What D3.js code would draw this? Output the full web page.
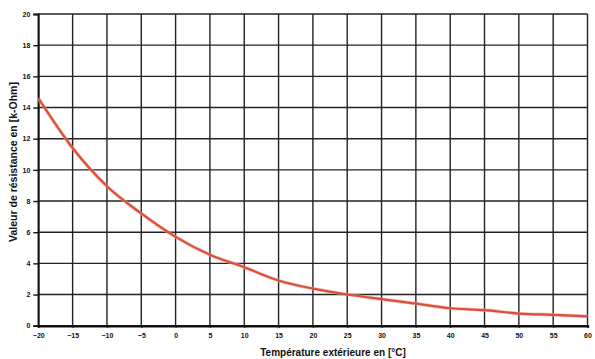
<!DOCTYPE html>
<html>
<head>
<meta charset="utf-8">
<script src="https://cdn.jsdelivr.net/npm/d3@7/dist/d3.min.js"></script>
<style>
  html, body { margin: 0; padding: 0; background: #fff; }
  svg { display: block; }
  text { font-family: "Liberation Sans", Arial, sans-serif; fill: #111; }
</style>
</head>
<body>
<svg id="chart" width="595" height="359"></svg>
<script>
// Data
const temperatures = [-20, -15, -10, -5, 0, 5, 10, 15, 20, 25, 30, 35, 40, 45, 50, 55, 60];
const resistances  = [14.6, 11.4, 8.95, 7.2, 5.7, 4.55, 3.75, 2.9, 2.38, 2.0, 1.7, 1.42, 1.12, 1.0, 0.78, 0.7, 0.6];
const xTicks = [-20, -15, -10, -5, 0, 5, 10, 15, 20, 25, 30, 35, 40, 45, 50, 55, 60];
const yTicks = [0, 2, 4, 6, 8, 10, 12, 14, 16, 18, 20];
const xTitle = "Température extérieure en [°C]";
const yTitle = "Valeur de résistance en [k-Ohm]";

const W = 595, H = 359;
const margin = { left: 38.3, right: 7.5, top: 14, bottom: 33.3 };
const svg = d3.select("#chart");

const x = d3.scaleLinear().domain([-20, 60]).range([margin.left, W - margin.right]);
const y = d3.scaleLinear().domain([0, 20]).range([H - margin.bottom, margin.top]);

// Grid
const grid = svg.append("g");
grid.selectAll("line.v").data(xTicks).join("line")
  .attr("x1", d => x(d)).attr("x2", d => x(d))
  .attr("y1", y(20)).attr("y2", y(0))
  .attr("stroke", "#222").attr("stroke-width", 1.4);
grid.selectAll("line.h").data(yTicks).join("line")
  .attr("x1", x(-20)).attr("x2", x(60))
  .attr("y1", d => y(d)).attr("y2", d => y(d))
  .attr("stroke", "#222").attr("stroke-width", 1.4);

// Y axis
const yAxis = d3.axisLeft(y).tickValues(yTicks).tickSize(5).tickPadding(3);
const gy = svg.append("g").attr("transform", `translate(${x(-20)},0)`).call(yAxis);
gy.select(".domain").attr("stroke", "#111").attr("stroke-width", 1.8);
gy.selectAll(".tick line").attr("stroke", "#111").attr("stroke-width", 1.4);
gy.selectAll(".tick text").attr("font-size", 7).attr("font-weight", "bold")
  .attr("font-family", "Liberation Sans, Arial, sans-serif").attr("fill", "#222");

// X axis
const xAxis = d3.axisBottom(x).tickValues(xTicks).tickSize(2).tickPadding(5);
const gx = svg.append("g").attr("transform", `translate(0,${y(0)})`).call(xAxis);
gx.select(".domain").attr("stroke", "#111").attr("stroke-width", 2.4);
gx.selectAll(".tick line").attr("stroke", "#111").attr("stroke-width", 1.4);
gx.selectAll(".tick text").attr("font-size", 7).attr("font-weight", "bold")
  .attr("font-family", "Liberation Sans, Arial, sans-serif").attr("fill", "#222");

// Curve
const line = d3.line()
  .x((d, i) => x(temperatures[i]))
  .y(d => y(d))
  .curve(d3.curveMonotoneX);
svg.append("path").datum(resistances)
  .attr("d", line)
  .attr("fill", "none")
  .attr("stroke", "#f3a08f").attr("stroke-width", 3.6).attr("opacity", 0.6);
svg.append("path").datum(resistances)
  .attr("d", line)
  .attr("fill", "none")
  .attr("stroke", "#d9503a").attr("stroke-width", 2.2);

// Titles
svg.append("text")
  .attr("x", 333).attr("y", 356)
  .attr("text-anchor", "middle")
  .attr("font-size", 10).attr("font-weight", "bold")
  .text(xTitle);
svg.append("text")
  .attr("transform", `translate(17,162) rotate(-90)`)
  .attr("text-anchor", "middle")
  .attr("font-size", 10.5).attr("font-weight", "bold")
  .text(yTitle);
</script>
</body>
</html>
